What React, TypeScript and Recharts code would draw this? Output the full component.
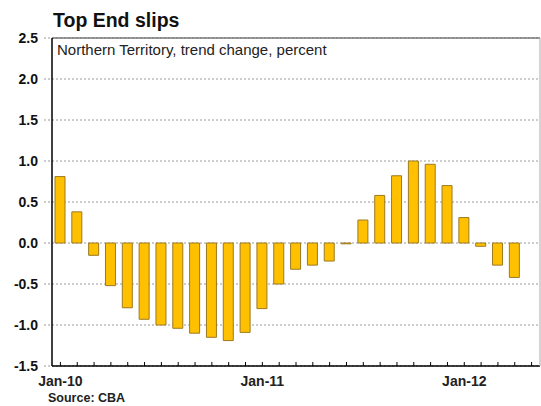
import React from 'react';
import {
  BarChart,
  Bar,
  XAxis,
  YAxis,
  CartesianGrid,
  ReferenceLine,
} from 'recharts';

const MONTHS = [
  'Jan-10', 'Feb-10', 'Mar-10', 'Apr-10', 'May-10', 'Jun-10', 'Jul-10', 'Aug-10', 'Sep-10', 'Oct-10', 'Nov-10', 'Dec-10',
  'Jan-11', 'Feb-11', 'Mar-11', 'Apr-11', 'May-11', 'Jun-11', 'Jul-11', 'Aug-11', 'Sep-11', 'Oct-11', 'Nov-11', 'Dec-11',
  'Jan-12', 'Feb-12', 'Mar-12', 'Apr-12', 'May-12',
];

// trend change, percent (May-12 not yet published)
const CHANGE: (number | null)[] = [
  0.81, 0.38, -0.15, -0.52, -0.79, -0.93, -1.0, -1.04, -1.1, -1.15, -1.19, -1.09,
  -0.8, -0.5, -0.32, -0.27, -0.22, -0.01, 0.28, 0.58, 0.82, 1.0, 0.96, 0.7,
  0.31, -0.04, -0.27, -0.42, null,
];

const Y_TICKS = [-1.5, -1.0, -0.5, 0, 0.5, 1.0, 1.5, 2.0, 2.5];
const X_LABELS = ['Jan-10', 'Jan-11', 'Jan-12'];

const FONT = '"Liberation Sans", Arial, sans-serif';

const data = MONTHS.map((month, i) => ({ month, change: CHANGE[i] }));

// tick mark pointing up into the plot, label only on January
function MonthTick(props: any) {
  const { x, y, payload } = props;
  const label = X_LABELS.includes(payload.value) ? payload.value : '';
  return (
    <g>
      <line x1={x} x2={x} y1={y} y2={y - 4} stroke="#000" strokeWidth={1} />
      {label && (
        <text x={x} y={y + 20} textAnchor="middle" fill="#222" fontSize={14} fontWeight="bold" fontFamily={FONT}>
          {label}
        </text>
      )}
    </g>
  );
}

export default function App() {
  return (
    <div style={{ position: 'relative', width: 541, height: 406, fontFamily: FONT, background: '#fff' }}>
      <style>{'body{margin:0;overflow:hidden;}'}</style>
      <div style={{ position: 'absolute', left: 0, top: 0 }}>
        <BarChart
          width={541}
          height={406}
          data={data}
          margin={{ top: 38, right: 0, bottom: 10, left: 0 }}
          style={{ fontFamily: FONT }}
        >
          <CartesianGrid vertical={false} stroke="#9a9a9a" strokeDasharray="2 2" />
          <XAxis
            dataKey="month"
            interval={0}
            height={30}
            tickSize={0}
            tickMargin={0}
            tickLine={false}
            axisLine={{ stroke: '#000', strokeWidth: 1.5 }}
            tick={<MonthTick />}
          />
          <YAxis
            domain={[-1.5, 2.5]}
            ticks={Y_TICKS}
            width={52}
            tickSize={8}
            tickMargin={6}
            tickLine={{ stroke: '#999', strokeDasharray: '2 2' }}
            axisLine={{ stroke: '#000', strokeWidth: 1.5 }}
            tick={{ fill: '#111', fontSize: 14, fontWeight: 'bold' }}
            tickFormatter={(v: number) => v.toFixed(1)}
          />
          <YAxis
            yAxisId="r"
            orientation="right"
            domain={[-1.5, 2.5]}
            width={1}
            tick={false}
            tickLine={false}
            axisLine={{ stroke: '#aaa' }}
          />
          <ReferenceLine y={2.5} stroke="#777" strokeWidth={1.5} />
          <Bar
            dataKey="change"
            barSize={10}
            fill="#FFC000"
            stroke="#9c7a22"
            strokeWidth={1}
            isAnimationActive={false}
          />
        </BarChart>
      </div>
      <div style={{ position: 'absolute', left: 53, top: 11, fontSize: 19.5, fontWeight: 'bold', lineHeight: 1, color: '#111', whiteSpace: 'nowrap' }}>
        Top End slips
      </div>
      <div style={{ position: 'absolute', left: 57, top: 42, fontSize: 15, lineHeight: 1, color: '#222', whiteSpace: 'nowrap' }}>
        Northern Territory, trend change, percent
      </div>
      <div style={{ position: 'absolute', left: 48, top: 392, fontSize: 12.5, fontWeight: 'bold', lineHeight: 1, color: '#222', whiteSpace: 'nowrap' }}>
        Source: CBA
      </div>
    </div>
  );
}
